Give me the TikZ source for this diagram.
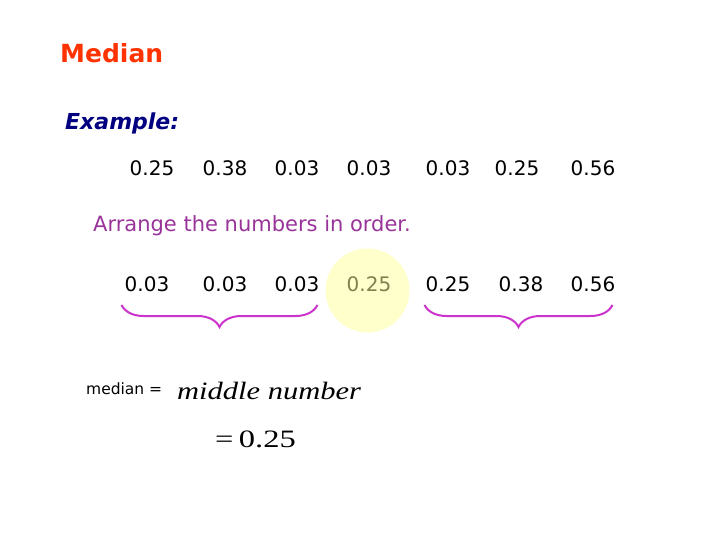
\documentclass[tikz,border=0pt]{standalone}
\usepackage{fontspec}
\setmainfont{DejaVu Sans}
\newfontfamily\timesfont{Liberation Serif}
\usepackage{graphicx}
\usepackage{tikz}
\usetikzlibrary{decorations.pathreplacing}
\definecolor{titlered}{RGB}{255,51,0}
\definecolor{navyblue}{RGB}{0,0,128}
\definecolor{plum}{RGB}{153,51,153}
\definecolor{bracemag}{RGB}{204,51,204}
\definecolor{hlyellow}{RGB}{255,255,204}
\definecolor{olivetext}{RGB}{128,128,80}

\begin{document}
\begin{tikzpicture}[x=1pt,y=-1pt,every node/.style={inner sep=0pt}]
  \tikzset{num/.style={anchor=base,font=\fontsize{20}{24}\selectfont},
           brc/.style={draw=bracemag,line width=2pt,decorate,
                       decoration={brace,mirror,amplitude=22pt}}}
  \useasboundingbox (0,0) rectangle (720,540);
  \node[anchor=base west,text=titlered,font=\bfseries\fontsize{25}{30}\selectfont] (title) at (60,63) {Median};
  \node[anchor=base west,text=navyblue,font=\bfseries\itshape\fontsize{22}{26}\selectfont] (ex) at (65,130) {Example:};
  % data as given
  \node[num] (u1) at (152,176) {0.25};
  \node[num] (u2) at (225,176) {0.38};
  \node[num] (u3) at (297,176) {0.03};
  \node[num] (u4) at (369,176) {0.03};
  \node[num] (u5) at (448,176) {0.03};
  \node[num] (u6) at (517,176) {0.25};
  \node[num] (u7) at (593,176) {0.56};
  \node[anchor=base west,text=plum,font=\fontsize{21}{25}\selectfont] (arr) at (93,232) {Arrange the numbers in order.};
  % sorted row
  \node[circle,fill=hlyellow,minimum size=84pt] (hl) at (367.5,290.5) {};
  \node[num] (s1) at (147,291) {0.03};
  \node[num] (s2) at (225,291) {0.03};
  \node[num] (s3) at (297,291) {0.03};
  \node[num,text=olivetext] (s4) at (369,291) {0.25};
  \node[num] (s5) at (448,291) {0.25};
  \node[num] (s6) at (521,291) {0.38};
  \node[num] (s7) at (593,291) {0.56};
  \draw[brc] ([xshift=-3pt,yshift=-14pt]s1.base west) -- ([xshift=-2pt,yshift=-14pt]s3.base east);
  \draw[brc] ([xshift=-1pt,yshift=-14pt]s5.base west) -- ([xshift=-3pt,yshift=-14pt]s7.base east);
  % result
  \node[anchor=base west,font=\fontsize{15.5}{18}\selectfont] (lbl) at (86,394) {median =};
  \node[anchor=base west,font=\timesfont\itshape\fontsize{25}{30}\selectfont] (mid) at (177,399) {\scalebox{1.22}[1]{middle number}};
  \node[anchor=base west,font=\timesfont\fontsize{25}{30}\selectfont] (res) at (215,447) {\scalebox{1.3}[1]{=\,0.25}};
\end{tikzpicture}
\end{document}
